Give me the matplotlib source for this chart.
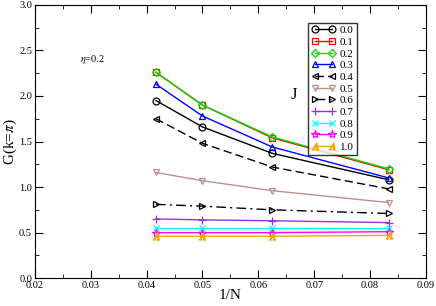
import numpy as np
import matplotlib.pyplot as plt
from matplotlib.ticker import MultipleLocator

plt.rcParams['font.family'] = ['Liberation Serif', 'DejaVu Serif']
plt.rcParams['mathtext.fontset'] = 'stix'

# 1/N for N = 24, 20, 16, 12
inv_n = [1/24, 1/20, 1/16, 1/12]

labels = ["0.0", "0.1", "0.2", "0.3", "0.4", "0.5", "0.6", "0.7", "0.8", "0.9", "1.0"]
g_00 = [1.95, 1.66, 1.37, 1.08]
g_01 = [2.26, 1.90, 1.54, 1.19]
g_02 = [2.26, 1.90, 1.55, 1.20]
g_03 = [2.13, 1.78, 1.44, 1.10]
g_04 = [1.75, 1.48, 1.22, 0.98]
g_05 = [1.16, 1.07, 0.96, 0.83]
g_06 = [0.81, 0.79, 0.75, 0.71]
g_07 = [0.65, 0.64, 0.63, 0.61]
g_08 = [0.55, 0.55, 0.55, 0.55]
g_09 = [0.50, 0.50, 0.50, 0.51]
g_10 = [0.46, 0.46, 0.46, 0.47]
series = [g_00, g_01, g_02, g_03, g_04, g_05, g_06, g_07, g_08, g_09, g_10]

colors = ["black", "red", "#00e000", "blue", "black", "#bc8f8f", "black",
          "#9b30d9", "cyan", "magenta", "orange"]
markers = ["o", "s", "D", "^", "<", "v", ">", "+", "x", "*", "$A$"]
styles = ["-", "-", "-", "-", (0, (6, 3)), "-", (0, (7, 3, 1.5, 3)), "-", "-", "-", "-"]
msizes = [5, 5, 4.5, 5, 5, 5, 5, 6, 5, 6, 5]

fig = plt.figure(figsize=(4.36, 3.06), dpi=100)
ax = fig.add_axes([0.080, 0.091, 0.897, 0.893])

for lab, y, c, m, ls, ms in zip(labels, series, colors, markers, styles, msizes):
    ax.plot(inv_n, y, color=c, linestyle=ls, linewidth=1.0, marker=m, markersize=ms,
            markerfacecolor="none", markeredgecolor=c, markeredgewidth=0.9, label=lab)

ax.set_xlim(0.02, 0.09)
ax.set_ylim(0, 3)
ax.xaxis.set_major_locator(MultipleLocator(0.01))
ax.xaxis.set_minor_locator(MultipleLocator(0.005))
ax.yaxis.set_major_locator(MultipleLocator(0.5))
ax.yaxis.set_minor_locator(MultipleLocator(0.25))
ax.tick_params(which="both", direction="in", top=True, right=True, labelsize=7.5, pad=2)
ax.tick_params(which="major", length=6)
ax.tick_params(which="minor", length=3)

ax.set_xlabel("1/N", fontsize=11, labelpad=-1)
ax.set_ylabel(r"G(k=$\pi$)", fontsize=11, labelpad=0)

ax.text(0.028, 2.37, r"$\eta$=0.2", fontsize=7.5)
ax.text(0.0657, 1.97, "J", fontsize=12)

leg = ax.legend(loc="upper right", bbox_to_anchor=(0.823, 0.935), numpoints=2,
                fontsize=8, frameon=True, fancybox=False, edgecolor="black",
                handlelength=2.2, handletextpad=0.4, borderpad=0.25,
                labelspacing=0.17, borderaxespad=0)
leg.get_frame().set_linewidth(1.0)

fig.savefig("out.png", dpi=100)
